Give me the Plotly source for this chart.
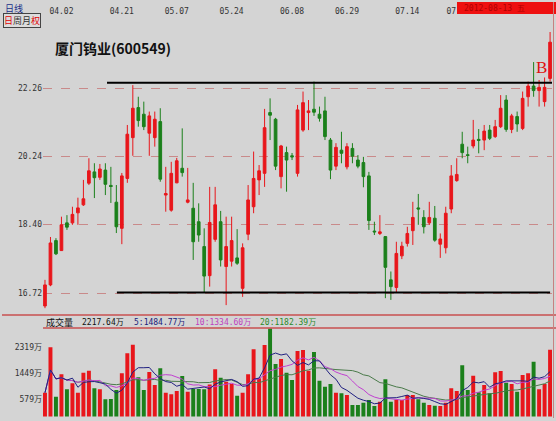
import plotly.graph_objects as go
import pandas as pd

# ---------------- data ----------------
OPEN = [16.42,16.91,17.99,17.74,18.44,18.44,18.70,18.91,19.49,19.80,
        19.65,19.85,19.43,18.98,18.30,19.62,20.77,21.66,21.46,20.90,
        20.77,21.24,19.17,18.77,19.50,19.90,18.98,18.82,18.47,17.84,
        17.13,18.02,18.47,17.35,17.48,17.56,16.83,18.15,18.86,19.58,
        19.76,21.51,21.31,19.67,20.34,20.25,19.76,20.99,21.51,21.61,
        21.46,21.56,20.70,19.96,20.41,19.94,20.46,20.13,20.06,19.69,
        18.23,18.17,18.09,17.03,16.85,17.61,17.92,18.24,18.83,18.58,
        18.44,18.56,17.90,17.81,18.80,19.56,20.58,20.28,20.53,20.72,
        20.70,20.99,20.80,21.09,21.89,21.01,21.39,21.04,21.99,22.32,
        22.18,21.84,22.56]
CLOSE = [16.91,17.93,17.66,18.39,18.33,18.66,18.83,19.07,19.83,19.64,
         19.88,19.46,19.40,18.34,19.69,20.87,21.64,21.27,21.09,21.41,
         21.31,19.60,19.21,19.76,20.11,19.78,19.04,17.96,18.13,17.12,
         18.45,18.91,17.51,17.84,17.99,17.43,17.81,19.04,19.62,19.83,
         21.06,21.43,19.96,20.53,20.13,20.22,21.59,21.81,21.56,21.52,
         21.34,20.80,19.85,20.49,20.32,20.51,20.24,19.96,19.67,18.50,
         18.21,18.21,17.33,16.87,17.67,17.85,18.17,18.58,18.80,18.34,
         18.58,18.00,18.03,18.69,19.69,19.73,20.34,20.26,20.70,20.69,
         20.96,20.75,21.09,21.64,21.01,21.41,21.17,21.94,22.32,22.18,
         22.28,22.28,23.73]
HIGH = [17.03,18.08,18.05,18.60,18.64,18.86,19.10,19.58,20.18,20.04,
        20.02,20.04,19.94,19.44,19.77,21.14,22.35,21.99,21.84,21.54,
        21.54,21.64,19.94,20.08,20.19,21.04,19.91,19.50,18.95,18.30,
        19.39,19.39,18.75,18.60,18.60,18.28,17.92,19.44,20.37,19.99,
        21.62,21.94,21.35,20.56,20.51,20.33,21.74,22.15,21.89,22.46,
        21.69,21.99,20.76,20.61,20.94,20.61,20.61,20.27,20.22,19.80,
        18.47,18.64,18.10,17.23,17.96,17.96,18.34,18.99,19.20,18.77,
        18.99,18.88,18.17,18.86,19.99,20.18,20.94,20.51,21.29,21.02,
        21.14,21.14,21.29,22.04,22.04,21.47,21.54,22.15,22.46,23.08,
        22.51,22.59,24.07]
LOW = [16.37,16.88,17.63,17.73,18.26,18.39,18.39,18.88,19.44,19.09,
       19.58,19.17,18.96,18.18,17.90,19.50,20.25,21.09,20.99,20.25,
       20.51,19.53,18.73,18.73,19.49,19.67,18.95,17.51,17.96,16.72,
       16.87,17.96,17.35,16.44,17.35,17.39,16.63,18.00,18.69,19.17,
       19.39,20.70,19.85,19.35,19.26,20.13,19.67,20.94,20.99,21.41,
       21.24,20.70,19.60,19.85,20.04,19.87,20.04,19.90,19.38,18.26,
       18.13,18.13,16.60,16.56,16.72,17.53,17.84,17.88,18.39,18.17,
       18.39,17.96,17.56,17.67,18.69,19.53,20.18,20.04,20.46,20.32,
       20.41,20.70,20.76,21.05,20.94,20.90,20.94,20.99,21.69,21.99,
       21.69,21.69,22.46]
VOLUME = [791,2300,658,1402,904,1103,791,1455,1522,937,
          904,571,581,880,1435,2100,2385,1302,880,1478,
          1047,1601,791,737,847,1345,824,914,914,904,
          1060,1568,1290,1157,1080,692,791,1402,2232,1269,
          2375,2920,1744,1910,1455,1213,2176,2209,1522,2143,
          1190,990,1080,791,770,714,382,382,458,548,
          349,492,1235,492,558,548,714,714,571,458,
          382,359,349,458,937,847,1700,880,1356,804,
          1047,770,1467,1511,1124,1080,824,1379,1435,1822,
          904,1080,2217.64]

DATE_TICK_POS = [3, 14, 24, 34, 45, 55, 66, 74]
DATE_TICK_LABELS = ["04.02", "04.21", "05.07", "05.24", "06.08", "06.29", "07.14", "07"]
PRICE_TICKS = [16.72, 18.40, 20.24, 22.26]
PRICE_TICK_LABELS = ["16.72", "18.40", "20.24", "22.26"]
VOL_TICKS = [579, 1449, 2319]
VOL_TICK_LABELS = ["579万", "1449万", "2319万"]

RESISTANCE = 22.42
RESISTANCE_START = 11.3
SUPPORT = 16.73
SUPPORT_START = 13.1

TITLE = "厦门钨业(600549)"
VOL_HEADER = ["成交量", "2217.64万", "5:1484.77万", "10:1334.60万", "20:1182.39万"]

# ---------------- styling ----------------
BG = "#d4d4d4"
RED = "#e8161b"
GREEN = "#1b801b"
MONO = "DejaVu Sans Mono, Noto Sans CJK SC"
N = len(OPEN)
idx = list(range(N))

vol_colors = [RED if c >= o else GREEN for o, c in zip(OPEN, CLOSE)]
vs = pd.Series(VOLUME)
ma5 = vs.rolling(5, min_periods=1).mean()
ma10 = vs.rolling(10, min_periods=1).mean()
ma20 = vs.rolling(20, min_periods=1).mean()

fig = go.Figure()
fig.add_trace(go.Candlestick(
    x=idx, open=OPEN, high=HIGH, low=LOW, close=CLOSE,
    increasing=dict(line=dict(color=RED, width=1), fillcolor=RED),
    decreasing=dict(line=dict(color=GREEN, width=1), fillcolor=GREEN),
    whiskerwidth=0, xaxis="x", yaxis="y", showlegend=False, hoverinfo="skip"))

fig.add_trace(go.Scatter(x=[RESISTANCE_START, N - 0.65], y=[RESISTANCE, RESISTANCE],
                         mode="lines", line=dict(color="black", width=2),
                         xaxis="x", yaxis="y", showlegend=False, hoverinfo="skip"))
fig.add_trace(go.Scatter(x=[SUPPORT_START, N - 1], y=[SUPPORT, SUPPORT],
                         mode="lines", line=dict(color="black", width=2),
                         xaxis="x", yaxis="y", showlegend=False, hoverinfo="skip"))

fig.add_trace(go.Bar(x=idx, y=VOLUME, marker=dict(color=vol_colors, line=dict(width=0)),
                     width=0.72, xaxis="x2", yaxis="y2", showlegend=False, hoverinfo="skip"))
for ser, col in [(ma20, "#4a7a4a"), (ma10, "#c040d0"), (ma5, "#202080")]:
    fig.add_trace(go.Scatter(x=idx, y=ser, mode="lines", line=dict(color=col, width=1),
                             xaxis="x2", yaxis="y2", showlegend=False, hoverinfo="skip"))

W, H = 556, 421
L, R, T, B = 43, 4, 17, 4
pw, ph = W - L - R, H - T - B


def px(xp):
    return (xp - L) / pw


def py(yp):
    return (H - B - yp) / ph


xr = [-0.36, 92.35]
fig.update_layout(
    width=W, height=H,
    margin=dict(l=L, r=R, t=T, b=B),
    paper_bgcolor=BG, plot_bgcolor=BG,
    xaxis=dict(domain=[0, 1], range=xr, anchor="y", side="top",
               tickvals=DATE_TICK_POS, ticktext=DATE_TICK_LABELS,
               tickfont=dict(family=MONO, size=8, color="#333"),
               showgrid=False, zeroline=False, showline=False, ticks="",
               rangeslider=dict(visible=False)),
    yaxis=dict(domain=[0.26, 1], type="log", range=[1.21112, 1.390568],
               tickvals=PRICE_TICKS, ticktext=PRICE_TICK_LABELS,
               tickfont=dict(family=MONO, size=8, color="#333"),
               showgrid=True, gridcolor="#c98a8a", griddash="dash", gridwidth=1,
               zeroline=False, showline=False, ticks=""),
    xaxis2=dict(domain=[0, 1], range=xr, anchor="y2", showticklabels=False,
                showgrid=False, zeroline=False, showline=False, ticks=""),
    yaxis2=dict(domain=[0, 0.22625], range=[-16.6, 2990],
                tickvals=VOL_TICKS, ticktext=VOL_TICK_LABELS,
                tickfont=dict(family=MONO, size=8, color="#333"),
                showgrid=False, zeroline=False, showline=False, ticks=""),
    bargap=0.25,
    hovermode=False,
)

shapes = [
    dict(type="line", xref="paper", yref="paper", x0=px(2), x1=px(556), y0=py(315), y1=py(315),
         line=dict(color="#c85050", width=1.5)),
    dict(type="line", xref="paper", yref="paper", x0=px(43), x1=px(556), y0=py(328), y1=py(328),
         line=dict(color="#c85050", width=1.5)),
    dict(type="rect", xref="paper", yref="paper", x0=px(457), x1=px(556), y0=py(14), y1=py(2),
         fillcolor="#ee1010", line=dict(width=0), layer="above"),
    dict(type="line", xref="paper", yref="paper", x0=px(553.5), x1=px(553.5), y0=py(2), y1=py(418),
         line=dict(color="#c88080", width=1)),
]
fig.update_layout(shapes=shapes)

ann = [
    dict(text="日线", x=px(3), y=py(8), xanchor="left", yanchor="middle",
         font=dict(family="Noto Sans CJK SC", size=9, color="#20308a")),
    dict(text="<span style='color:#e00000'>日</span>周月<span style='color:#e00000'>权</span>",
         x=px(3), y=py(20.5), xanchor="left", yanchor="middle",
         font=dict(family="Noto Sans CJK SC", size=9, color="#333"),
         bordercolor="#444", borderwidth=1, borderpad=0, bgcolor="#dcdcdc"),
    dict(text="<b>" + TITLE + "</b>", x=px(113), y=py(48), xanchor="center", yanchor="middle",
         font=dict(family="Noto Sans CJK SC", size=14, color="#111")),
    dict(text="B", x=px(541), y=py(68), xanchor="center", yanchor="middle",
         font=dict(family="Liberation Serif", size=17, color="#e01010")),
    dict(text="2012-08-13 五", x=px(462), y=py(8), xanchor="left", yanchor="middle",
         font=dict(family=MONO, size=8, color="#b00000")),
]
hdr_x = [44, 80, 132, 193, 258]
hdr_c = ["#111", "#111", "#20207a", "#c040c0", "#2a8a2a"]
for t, x0, c in zip(VOL_HEADER, hdr_x, hdr_c):
    ann.append(dict(text=t, x=px(x0), y=py(322), xanchor="left", yanchor="middle",
                    font=dict(family=MONO, size=8 if t != "成交量" else 9, color=c)))
for a in ann:
    a.setdefault("xref", "paper")
    a.setdefault("yref", "paper")
    a.setdefault("showarrow", False)
fig.update_layout(annotations=ann)

fig.write_html("out.html", config={"displayModeBar": False},
               post_script="document.body.style.margin='0px';")
